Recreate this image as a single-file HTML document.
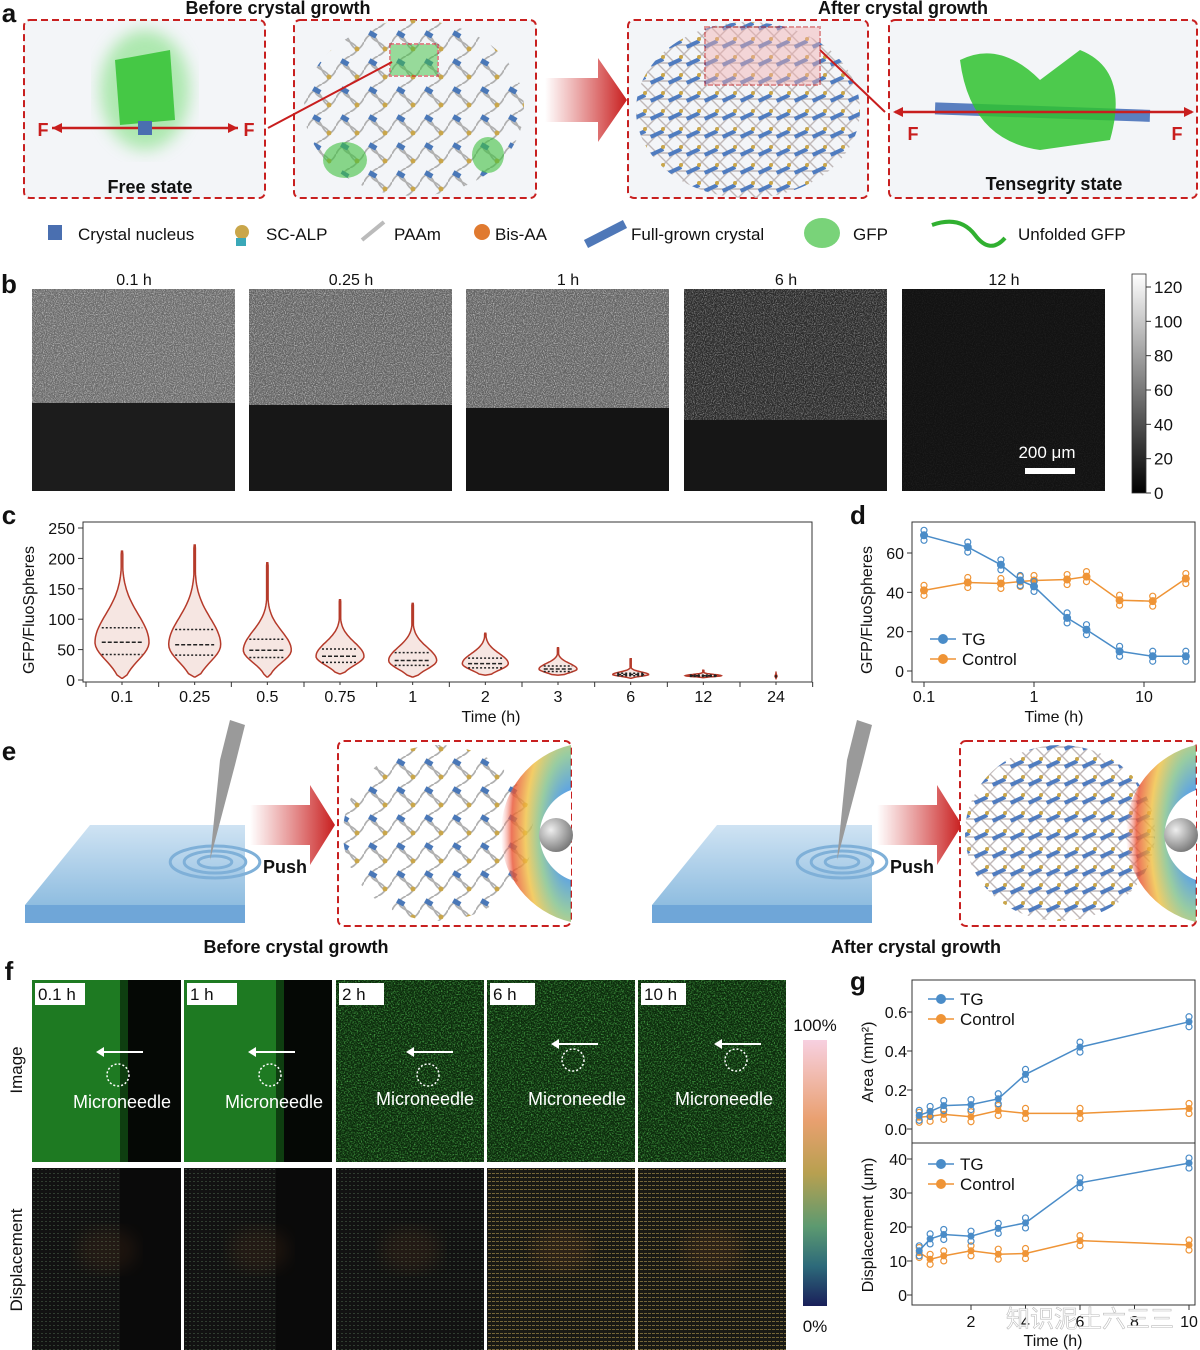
<!DOCTYPE html>
<html><head><meta charset="utf-8"><style>
html,body{margin:0;padding:0;background:#fff}
svg{display:block;font-family:"Liberation Sans","Noto Sans CJK SC",sans-serif}
</style></head><body>
<svg id="fig" width="1200" height="1350" viewBox="0 0 1200 1350" xmlns="http://www.w3.org/2000/svg">
<defs>
<filter id="noiseGray" x="0" y="0" width="100%" height="100%"><feTurbulence type="fractalNoise" baseFrequency="0.9" numOctaves="2" seed="3"/><feColorMatrix type="matrix" values="0 0 0 0 0.6  0 0 0 0 0.6  0 0 0 0 0.6  2.4 0 0 0 -1.0"/></filter>
<filter id="noiseGreen" x="0" y="0" width="100%" height="100%"><feTurbulence type="fractalNoise" baseFrequency="0.7" numOctaves="2" seed="7"/><feColorMatrix type="matrix" values="0 0 0 0 0.1  0 0 0 0 0.6  0 0 0 0 0.1  2 0 0 0 -0.9"/></filter>
<filter id="blur6"><feGaussianBlur stdDeviation="8"/></filter>
<linearGradient id="cbar" x1="0" y1="1" x2="0" y2="0"><stop offset="0" stop-color="#000"/><stop offset="1" stop-color="#fff"/></linearGradient>
<linearGradient id="cbarF" x1="0" y1="0" x2="0" y2="1"><stop offset="0" stop-color="#f7d0e0"/><stop offset="0.3" stop-color="#e9a070"/><stop offset="0.5" stop-color="#b8a050"/><stop offset="0.7" stop-color="#5d9a70"/><stop offset="0.85" stop-color="#2d6a7a"/><stop offset="1" stop-color="#1a1f5a"/></linearGradient>
<linearGradient id="redArrow" x1="0" y1="0" x2="1" y2="0"><stop offset="0" stop-color="#d03030" stop-opacity="0"/><stop offset="1" stop-color="#c81e1e"/></linearGradient>
<radialGradient id="rainbow" cx="1" cy="0.5" r="1"><stop offset="0.25" stop-color="#3a8fd8"/><stop offset="0.45" stop-color="#7fc08a"/><stop offset="0.65" stop-color="#f0c040"/><stop offset="0.85" stop-color="#e85030"/><stop offset="1" stop-color="#f8a0a0" stop-opacity="0"/></radialGradient>
<linearGradient id="slab" x1="0" y1="0" x2="0" y2="1"><stop offset="0" stop-color="#cfe3f3"/><stop offset="1" stop-color="#8fbde0"/></linearGradient>
<radialGradient id="sphere" cx="0.35" cy="0.35" r="0.7"><stop offset="0" stop-color="#eee"/><stop offset="1" stop-color="#777"/></radialGradient>
<pattern id="netPat" width="28" height="28" patternUnits="userSpaceOnUse"><path d="M0 14 Q7 0 14 14 T28 14 M14 0 Q0 7 14 14 T14 28" fill="none" stroke="#b0b0b0" stroke-width="1.8"/><rect x="5" y="4" width="8" height="5" fill="#4a78b8" transform="rotate(30 9 6)"/><circle cx="21" cy="21" r="2.5" fill="#c9a64a"/></pattern>
<pattern id="gridPat" width="18" height="18" patternUnits="userSpaceOnUse"><path d="M0 0 L18 18 M18 0 L0 18 M0 9 H18" stroke="#c0b8b8" stroke-width="1.4"/><rect x="2" y="6" width="14" height="4" fill="#4f7cc0" transform="rotate(-25 9 8)"/><circle cx="15" cy="3" r="2" fill="#c9a64a"/></pattern>
<pattern id="dispPat" width="4" height="4" patternUnits="userSpaceOnUse"><rect width="4" height="4" fill="#141414"/><rect x="1" y="1" width="2" height="1" fill="#3a4a3a"/></pattern>
<pattern id="dispPat2" width="4" height="4" patternUnits="userSpaceOnUse"><rect width="4" height="4" fill="#1a1a14"/><rect x="0" y="1" width="3" height="1" fill="#7a6a3a"/></pattern>
</defs>
<g id="panelA"></g>
<g id="panelB"></g>
<g id="panelC"></g>
<g id="panelD"></g>
<g id="panelE"></g>
<g id="panelF"></g>
<g id="panelG"></g>
</svg>
<script>
const cCategories = ["0.1","0.25","0.5","0.75","1","2","3","6","12","24"];
const cMax = [212,222,193,132,126,77,53,35,16,13];
const cMin = [3,5,5,10,5,8,8,3,4,2];
const cQ1 = [42,41,37,29,24,20,14,7,6,5];
const cMedian = [62,58,49,39,32,27,18,9,7,6];
const cQ3 = [86,83,67,51,45,36,23,11,8,7];
const cWidth = [27,26,24,24,24,23,19,18,18,1];
const cTicks = [0,50,100,150,200,250];

const dTimes = [0.1,0.25,0.5,0.75,1,2,3,6,12,24];
const dTG = [69,63,54,46,43,27,21,10,7.5,7.5];
const dControl = [41,45,44.5,45.5,46,46.5,48,36,35.5,47];
const dTicksY = [0,20,40,60];
const dTicksX = [0.1,1,10];

const gTimes = [0.1,0.5,1,2,3,4,6,10];
const gAreaTG = [0.07,0.09,0.12,0.125,0.155,0.28,0.42,0.55];
const gAreaControl = [0.06,0.065,0.075,0.063,0.095,0.08,0.08,0.105];
const gDispTG = [13,16.5,17.8,17.3,19.6,21.2,33,38.8];
const gDispControl = [12.5,10.5,11.5,13,12,12.2,16,14.7];
const gTicksArea = [0.0,0.2,0.4,0.6];
const gTicksDisp = [0,10,20,30,40];
const gTicksX = [2,4,6,8,10];

const NS="http://www.w3.org/2000/svg";
function mk(tag,attrs,parent,text){const e=document.createElementNS(NS,tag);for(const k in attrs)e.setAttribute(k,attrs[k]);if(text!==undefined)e.textContent=text;if(parent)parent.appendChild(e);return e;}
function label(parent,x,y,t,size,opts){opts=opts||{};const e=mk('text',Object.assign({x:x,y:y,'font-size':size,'text-anchor':opts.anchor||'middle',fill:opts.fill||'#111','font-weight':opts.bold?'bold':'normal'},opts.extra||{}),parent,t);

return e;}

// panel a
const A=document.getElementById('panelA');
label(A,9,22,'a',26,{bold:true,name:'panel-a-letter'});
label(A,278,14,'Before crystal growth',18,{bold:true,name:'before-title'});
label(A,903,14,'After crystal growth',18,{bold:true,name:'after-title'});
const aBoxes=[[24,20,241,178],[294,20,242,178],[628,20,240,178],[889,20,308,178]];
aBoxes.forEach((b,i)=>{const r=mk('rect',{x:b[0],y:b[1],width:b[2],height:b[3],rx:6,fill:'#f3f5f8',stroke:'#c82020','stroke-width':2,'stroke-dasharray':'7 4'},A);

});
mk('ellipse',{cx:145,cy:90,rx:45,ry:60,fill:'#7fe07f',opacity:0.6,filter:'url(#blur6)'},A);
mk('path',{d:'M115 60 L170 50 L175 120 L120 125 Z',fill:'#33c233',opacity:0.85},A);
mk('rect',{x:138,y:121,width:14,height:14,fill:'#4a6fb0'},A);
mk('path',{d:'M52 128 H138 M152 128 H238',stroke:'#c81e1e','stroke-width':2.5},A);
mk('path',{d:'M52 128 l10 -5 v10 Z M238 128 l-10 -5 v10 Z',fill:'#c81e1e'},A);
label(A,43,136,'F',18,{bold:true,fill:'#c81e1e',name:'force-label'});
label(A,249,136,'F',18,{bold:true,fill:'#c81e1e',name:'force-label'});
label(A,150,193,'Free state',18,{bold:true,name:'free-state-label'});
mk('ellipse',{cx:414,cy:108,rx:110,ry:88,fill:'url(#netPat)'},A);
mk('rect',{x:390,y:44,width:48,height:32,fill:'#3ec03e',opacity:0.5,stroke:'#c81e1e','stroke-width':2,'stroke-dasharray':'4 2'},A);
mk('ellipse',{cx:345,cy:160,rx:22,ry:18,fill:'#40c040',opacity:0.6},A);
mk('ellipse',{cx:488,cy:155,rx:16,ry:18,fill:'#40c040',opacity:0.6},A);
mk('path',{d:'M392 62 L268 128',stroke:'#c81e1e','stroke-width':2},A);
mk('path',{d:'M545 78 H598 V58 L627 100 L598 142 V122 H545 Z',fill:'url(#redArrow)'},A);
mk('ellipse',{cx:748,cy:110,rx:112,ry:88,fill:'url(#gridPat)'},A);
mk('rect',{x:705,y:27,width:115,height:58,fill:'#f4b0b0',opacity:0.45,stroke:'#c81e1e','stroke-width':2,'stroke-dasharray':'5 2'},A);
mk('path',{d:'M820 50 L885 112',stroke:'#c81e1e','stroke-width':2},A);
mk('rect',{x:935,y:106,width:215,height:12,fill:'#5a7fc0',transform:'rotate(2 1040 112)'},A);
mk('path',{d:'M960 60 Q1000 40 1040 80 L1080 50 Q1130 70 1110 140 L1040 150 Q970 140 960 60 Z',fill:'#2fc22f',opacity:0.85},A);
mk('path',{d:'M895 112 H1192',stroke:'#c81e1e','stroke-width':2.5},A);
mk('path',{d:'M893 112 l10 -5 v10 Z M1194 112 l-10 -5 v10 Z',fill:'#c81e1e'},A);
label(A,913,140,'F',18,{bold:true,fill:'#c81e1e',name:'force-label'});
label(A,1177,140,'F',18,{bold:true,fill:'#c81e1e',name:'force-label'});
label(A,1054,190,'Tensegrity state',18,{bold:true,name:'tensegrity-state-label'});
const legA=[[78,'Crystal nucleus'],[266,'SC-ALP'],[394,'PAAm'],[495,'Bis-AA'],[631,'Full-grown crystal'],[853,'GFP'],[1018,'Unfolded GFP']];
legA.forEach(l=>label(A,l[0],240,l[1],17,{anchor:'start',name:'legend-entry'}));
mk('rect',{x:48,y:225,width:14,height:15,fill:'#4a6fb0'},A);
mk('circle',{cx:242,cy:232,r:7,fill:'#c9a64a'},A);mk('rect',{x:236,y:238,width:10,height:8,fill:'#3aa8b8'},A);
mk('path',{d:'M362 240 L384 222',stroke:'#bbb','stroke-width':4},A);
mk('circle',{cx:482,cy:232,r:8,fill:'#e07a30'},A);
mk('path',{d:'M586 244 L625 224',stroke:'#4f78b8','stroke-width':9},A);
mk('ellipse',{cx:822,cy:233,rx:18,ry:15,fill:'#40c040',opacity:0.7},A);
mk('path',{d:'M932 225 Q960 215 975 235 T1005 238',stroke:'#30b030','stroke-width':4,fill:'none'},A);

// panel b
const B=document.getElementById('panelB');
label(B,9,293,'b',26,{bold:true,name:'panel-b-letter'});
const bX=[32,249,466,684,902],bT=['0.1 h','0.25 h','1 h','6 h','12 h'],bSplit=[403,405,408,420,491],bTop=['#6a6a6a','#626262','#626262','#2a2a2a','#121212'],bBot=['#1c1c1c','#171717','#141414','#161616','#131313'],bOp=[0.9,0.9,0.9,0.6,0.08];
bX.forEach((x,i)=>{
 const g=mk('g',{},B);
 
 
 mk('rect',{x:x,y:289,width:203,height:202,fill:bBot[i]},g);
 mk('rect',{x:x,y:289,width:203,height:bSplit[i]-289,fill:bTop[i]},g);
 mk('rect',{x:x,y:289,width:203,height:bSplit[i]-289,fill:'#fff',filter:'url(#noiseGray)',opacity:bOp[i]},g);
 label(B,x+102,285,bT[i],16,{name:'time-label'});
});
mk('rect',{x:1025,y:468,width:50,height:6,fill:'#fff'},B);
label(B,1047,458,'200 μm',17,{fill:'#fff',name:'scale-bar-label'});
const cb=mk('rect',{x:1132,y:274,width:14,height:219,fill:'url(#cbar)',stroke:'#333','stroke-width':0.8},B);


[0,20,40,60,80,100,120].forEach(v=>{const y=493-v*(493-287)/120;mk('line',{x1:1146,x2:1151,y1:y,y2:y,stroke:'#333'},B);label(B,1154,y+6,String(v),17,{anchor:'start',name:'colorbar-tick'});});

// panel c
const C=document.getElementById('panelC');
label(C,9,524,'c',26,{bold:true,name:'panel-c-letter'});
const cL=83,cR=812,cT=522,cB=682;
const cyS=v=>680-v*(680-528)/250;
const cxS=i=>122+i*(776-122)/9;
mk('rect',{x:cL,y:cT,width:cR-cL,height:cB-cT,fill:'none',stroke:'#333','stroke-width':1},C);
cTicks.forEach(v=>{const y=cyS(v);mk('line',{x1:cL-5,x2:cL,y1:y,y2:y,stroke:'#333'},C);label(C,cL-8,y+6,String(v),16,{anchor:'end',name:'y-tick-label'});});
for(let i=0;i<=10;i++){const x=cxS(i)-36;mk('line',{x1:x,x2:x,y1:cB,y2:cB+5,stroke:'#333'},C);}
cCategories.forEach((c,i)=>{const x=cxS(i);mk('line',{x1:x,x2:x,y1:cB,y2:cB+3,stroke:'#333'},C);label(C,x,702,c,16,{name:'x-tick-label'});});
label(C,491,722,'Time (h)',16,{name:'x-axis-title'});
label(C,34,610,'GFP/FluoSpheres',16,{name:'y-axis-title',extra:{transform:'rotate(-90 34 610)'}});
cCategories.forEach((c,i)=>{
 const x=cxS(i),n=40,L=[],R=[];
 for(let k=0;k<=n;k++){const v=cMin[i]+(cMax[i]-cMin[i])*k/n;let w;
  const sd=(cQ3[i]-cQ1[i])/1.35||1;
  if(v<cMedian[i]) w=Math.exp(-Math.pow((v-cMedian[i])/(sd*0.9),2)/2); else w=Math.exp(-Math.pow((v-cMedian[i])/(sd*1.4),2)/2);
  w=Math.max(w,0.03)*cWidth[i]; if(k===0||k===n) w=0.5;
  L.push([x-w,cyS(v)]);R.unshift([x+w,cyS(v)]);}
 const pts=L.concat(R).map(p=>p[0].toFixed(1)+','+p[1].toFixed(1)).join(' ');
 const vp=mk('polygon',{points:pts,fill:'#f6e6e2',stroke:'#b53a2a','stroke-width':1.5},C);
 
 
 [[cQ1[i],'2 2'],[cMedian[i],'4 2'],[cQ3[i],'2 2']].forEach(q=>{const y=cyS(q[0]);const hw=cWidth[i]*0.75;mk('line',{x1:x-hw,x2:x+hw,y1:y,y2:y,stroke:'#222','stroke-width':1.5,'stroke-dasharray':q[1]},C);});
});

// panel d
const D=document.getElementById('panelD');
label(D,858,524,'d',26,{bold:true,name:'panel-d-letter'});
const dL=912,dR=1195,dT=522,dB=682;
const dyS=v=>671-v*(671-553)/60;
const dxS=t=>924+Math.log10(t/0.1)*110;
mk('rect',{x:dL,y:dT,width:dR-dL,height:dB-dT,fill:'none',stroke:'#333'},D);
dTicksY.forEach(v=>{const y=dyS(v);mk('line',{x1:dL-5,x2:dL,y1:y,y2:y,stroke:'#333'},D);label(D,dL-8,y+6,String(v),16,{anchor:'end',name:'y-tick-label'});});
dTicksX.forEach(t=>{const x=dxS(t);mk('line',{x1:x,x2:x,y1:dB,y2:dB+5,stroke:'#333'},D);label(D,x,702,String(t),16,{name:'x-tick-label'});});
label(D,1054,722,'Time (h)',16,{name:'x-axis-title'});
label(D,872,610,'GFP/FluoSpheres',16,{name:'y-axis-title',extra:{transform:'rotate(-90 872 610)'}});
function series(P,xs,ys,xf,yf,col,name,r){
 const d=xs.map((t,i)=>(i?'L':'M')+xf(t).toFixed(1)+' '+yf(ys[i]).toFixed(1)).join(' ');
 const p=mk('path',{d:d,fill:'none',stroke:col,'stroke-width':1.5},P);
 
 
 xs.forEach((t,i)=>{const c=mk('circle',{cx:xf(t),cy:yf(ys[i]),r:r||4,fill:col},P);
  
  
  mk('circle',{cx:xf(t),cy:yf(ys[i])-5,r:3,fill:'none',stroke:col,'stroke-width':1.2},P);
  mk('circle',{cx:xf(t),cy:yf(ys[i])+5,r:3,fill:'none',stroke:col,'stroke-width':1.2},P);});
}
const BLUE='#4a8cc8',ORANGE='#ef9436';
series(D,dTimes,dControl,dxS,dyS,ORANGE,'control');
series(D,dTimes,dTG,dxS,dyS,BLUE,'tg');
function legend(P,x,y,col,t){mk('line',{x1:x,x2:x+26,y1:y,y2:y,stroke:col,'stroke-width':1.5},P);mk('circle',{cx:x+13,cy:y,r:5,fill:col},P);label(P,x+32,y+6,t,17,{anchor:'start',name:'legend-entry'});}
legend(D,930,639,BLUE,'TG');legend(D,930,659,ORANGE,'Control');

// panel e
const E=document.getElementById('panelE');
label(E,9,760,'e',26,{bold:true,name:'panel-e-letter'});
[[25,338],[652,960]].forEach((o,j)=>{
 const s=o[0],bx=o[1];
 mk('path',{d:`M${s} 905 L${s+65} 825 L${s+220} 825 L${s+220} 905 Z`,fill:'url(#slab)'},E);
 mk('rect',{x:s,y:905,width:220,height:18,fill:'#6fa6d8'},E);
 [12,22,32].forEach(r=>mk('ellipse',{cx:s+190,cy:862,rx:r*1.4,ry:r*0.5,fill:'none',stroke:'#7fb0d8','stroke-width':3},E));
 mk('path',{d:`M${s+185} 860 L${s+195} 760 L${s+205} 720 L${s+220} 725 L${s+210} 765 Z`,fill:'#9a9a9a'},E);
 mk('path',{d:`M${s+225} 805 H${s+285} V785 L${s+310} 825 L${s+285} 865 V845 H${s+225} Z`,fill:'url(#redArrow)'},E);
 label(E,s+260,873,'Push',18,{bold:true,name:'push-label'});
 const r=mk('rect',{x:bx,y:741,width:j?236:233,height:185,rx:6,fill:'#fff',stroke:'#c82020','stroke-width':2,'stroke-dasharray':'7 4'},E);
 
 
 mk('ellipse',{cx:bx+100,cy:833,rx:95,ry:88,fill:j?'url(#gridPat)':'url(#netPat)'},E);
 const rx=bx+(j?236:233);
 mk('path',{d:`M${rx} 745 A90 90 0 0 0 ${rx-70} 833 A90 90 0 0 0 ${rx} 922 Z`,fill:'url(#rainbow)',opacity:0.8},E);
 mk('path',{d:`M${rx} 790 A48 48 0 0 0 ${rx} 880`,fill:'#fff'},E);
 mk('circle',{cx:rx-15,cy:835,r:17,fill:'url(#sphere)'},E);
});
label(E,296,953,'Before crystal growth',18,{bold:true,name:'before-label'});
label(E,916,953,'After crystal growth',18,{bold:true,name:'after-label'});

// panel f
const F=document.getElementById('panelF');
label(F,9,980,'f',26,{bold:true,name:'panel-f-letter'});
const fX=[32,184,336,487,638],fW=[149,148,148,148,148],fT=['0.1 h','1 h','2 h','6 h','10 h'],fG=[88,92,148,148,148];
fX.forEach((x,i)=>{
 const g=mk('g',{},F);
 
 
 mk('rect',{x:x,y:980,width:fW[i],height:182,fill:'#050805'},g);
 if(i<2){mk('rect',{x:x,y:980,width:fG[i],height:182,fill:'#1e7a22'},g);mk('rect',{x:x+fG[i],y:980,width:8,height:182,fill:'#0e3e10'},g);}
 else{mk('rect',{x:x,y:980,width:fW[i],height:182,fill:'#0c2a0c'},g);mk('rect',{x:x,y:980,width:fW[i],height:182,fill:'#fff',filter:'url(#noiseGreen)'},g);}
 mk('rect',{x:x+3,y:983,width:i<2?50:45,height:22,fill:'#fff'},g);
 label(F,x+6,1000,fT[i],17,{anchor:'start',name:'time-label'});
 const cx=x+(i<2?86:i==2?92:i==3?86:98);
 mk('line',{x1:cx+25,x2:cx-17,y1:1052-(i>2?8:0),y2:1052-(i>2?8:0),stroke:'#fff','stroke-width':2},g);
 mk('path',{d:`M${cx-22} ${1052-(i>2?8:0)} l8 -5 v10 Z`,fill:'#fff'},g);
 mk('circle',{cx:cx,cy:1075-(i>2?15:0),r:11,fill:'none',stroke:'#fff','stroke-width':1.5,'stroke-dasharray':'2 2'},g);
 label(F,x+(i==4?86:i==3?90:i==2?89:90),1108-(i>1?3:0),'Microneedle',18,{fill:'#fff',name:'microneedle-label'});
 const g2=mk('g',{},F);
 
 
 mk('rect',{x:x,y:1168,width:fW[i],height:182,fill:'#0a0a0a'},g2);
 mk('rect',{x:x,y:1168,width:i<2?fG[i]:fW[i],height:182,fill:i>2?'url(#dispPat2)':'url(#dispPat)',opacity:i>2?0.95:0.8},g2);
 mk('ellipse',{cx:x+(i<2?75:75),cy:1250,rx:30,ry:22,fill:'#a05a2a',opacity:i>2?0.15:0.12,filter:'url(#blur6)'},g2);
});
label(F,22,1070,'Image',17,{name:'row-label',extra:{transform:'rotate(-90 22 1070)'}});
label(F,22,1260,'Displacement',17,{name:'row-label',extra:{transform:'rotate(-90 22 1260)'}});
const fcb=mk('rect',{x:803,y:1040,width:24,height:266,fill:'url(#cbarF)'},F);


label(F,815,1031,'100%',17,{name:'colorbar-max'});
label(F,815,1332,'0%',17,{name:'colorbar-min'});

// panel g
const G=document.getElementById('panelG');
label(G,858,990,'g',26,{bold:true,name:'panel-g-letter'});
const gL=912,gR=1195;
const gxS=t=>971+(t-2)*27.25;
const ayS=v=>1129-v*195;
const byS=v=>1295-v*3.4;
mk('rect',{x:gL,y:980,width:gR-gL,height:163,fill:'none',stroke:'#333'},G);
mk('rect',{x:gL,y:1143,width:gR-gL,height:162,fill:'none',stroke:'#333'},G);
gTicksArea.forEach(v=>{const y=ayS(v);mk('line',{x1:gL-5,x2:gL,y1:y,y2:y,stroke:'#333'},G);label(G,gL-5,y+6,v.toFixed(1),16,{anchor:'end',name:'y-tick-label'});});
gTicksDisp.forEach(v=>{const y=byS(v);mk('line',{x1:gL-5,x2:gL,y1:y,y2:y,stroke:'#333'},G);label(G,gL-5,y+6,String(v),16,{anchor:'end',name:'y-tick-label'});});
gTicksX.forEach(t=>{const x=gxS(t);mk('line',{x1:x,x2:x,y1:1305,y2:1310,stroke:'#333'},G);label(G,x,1327,String(t),16,{name:'x-tick-label'});});
label(G,1053,1346,'Time (h)',16,{name:'x-axis-title'});
label(G,873,1062,'Area (mm²)',16,{name:'y-axis-title',extra:{transform:'rotate(-90 873 1062)'}});
label(G,873,1225,'Displacement (μm)',16,{name:'y-axis-title',extra:{transform:'rotate(-90 873 1225)'}});
series(G,gTimes,gAreaControl,gxS,ayS,ORANGE,'area-control',3.5);
series(G,gTimes,gAreaTG,gxS,ayS,BLUE,'area-tg',3.5);
series(G,gTimes,gDispControl,gxS,byS,ORANGE,'disp-control',3.5);
series(G,gTimes,gDispTG,gxS,byS,BLUE,'disp-tg',3.5);
legend(G,928,999,BLUE,'TG');legend(G,928,1019,ORANGE,'Control');
legend(G,928,1164,BLUE,'TG');legend(G,928,1184,ORANGE,'Control');
label(G,1090,1327,'知识泥土六三三',24,{fill:'#fff',name:'watermark',extra:{stroke:'#bbb','stroke-width':0.6}});
</script>
</body></html>
